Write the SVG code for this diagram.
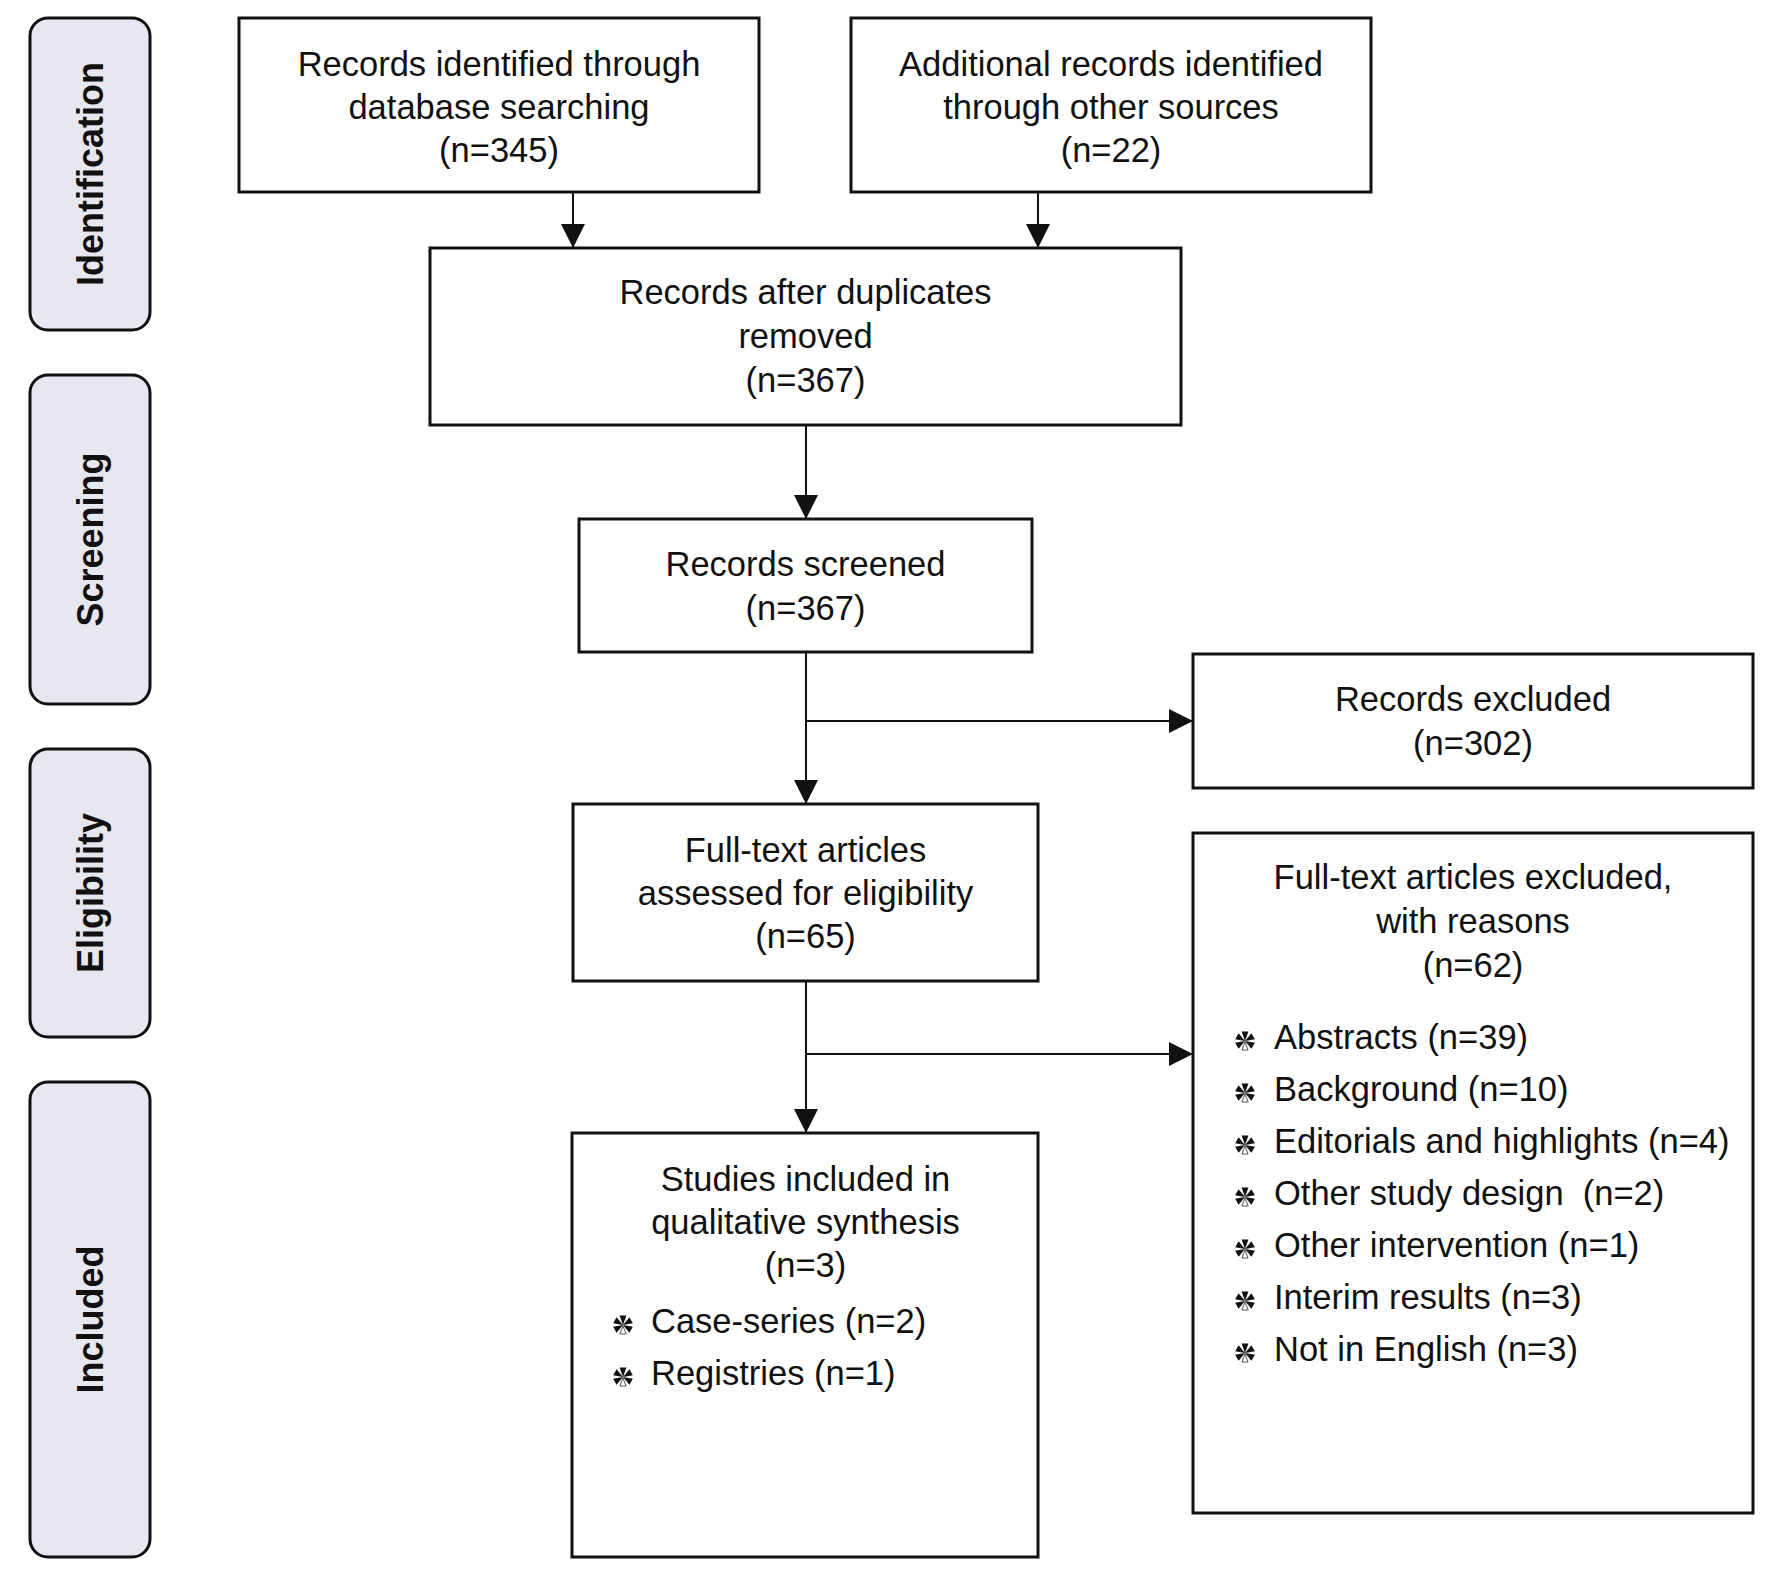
<svg xmlns="http://www.w3.org/2000/svg" xmlns:xlink="http://www.w3.org/1999/xlink" width="1772" height="1586" viewBox="0 0 1772 1586">
<style>
.box{fill:#ffffff;stroke:#111111;stroke-width:3}
.phase{fill:#e7e8ef;stroke:#111111;stroke-width:3}
.t{font-family:"Liberation Sans",Arial,sans-serif;font-size:34.5px;fill:#111111}
.c{text-anchor:middle}
.ph{font-family:"Liberation Sans",Arial,sans-serif;font-size:36px;font-weight:bold;fill:#111111;text-anchor:middle}
.ln{fill:none;stroke:#111111;stroke-width:2}
.arr{marker-end:url(#ah)}
</style>
<defs>
<marker id="ah" markerUnits="userSpaceOnUse" markerWidth="24" markerHeight="24" refX="24" refY="12" orient="auto">
<path d="M0,0 L24,12 L0,24 Z" fill="#111111"/>
</marker>
<g id="bul">
<path d="M0,0 L-3.42,-9.4 L3.42,-9.4 Z M0,0 L6.43,-7.66 L9.85,-1.74 Z M0,0 L9.85,1.74 L6.43,7.66 Z M0,0 L-6.43,7.66 L-9.85,1.74 Z M0,0 L-9.85,-1.74 L-6.43,-7.66 Z" fill="#111111"/>
<path d="M0,1 L3.1,9 L-3.1,9 Z" fill="#ffffff" stroke="#555555" stroke-width="1"/>
</g>
</defs>

<g id="phase-identification">
<rect class="phase" x="30" y="18" width="120" height="312" rx="18" ry="18"/>
<text class="ph" transform="translate(103,174) rotate(-90)">Identification</text>
</g>
<g id="phase-screening">
<rect class="phase" x="30" y="375" width="120" height="329" rx="18" ry="18"/>
<text class="ph" transform="translate(103,539.5) rotate(-90)">Screening</text>
</g>
<g id="phase-eligibility">
<rect class="phase" x="30" y="749" width="120" height="288" rx="18" ry="18"/>
<text class="ph" transform="translate(103,893) rotate(-90)">Eligibility</text>
</g>
<g id="phase-included">
<rect class="phase" x="30" y="1082" width="120" height="475" rx="18" ry="18"/>
<text class="ph" transform="translate(103,1319.5) rotate(-90)">Included</text>
</g>

<g id="node-database">
<rect class="box" x="239" y="18" width="520" height="174"/>
<text class="t c" x="499" y="76">Records identified through</text>
<text class="t c" x="499" y="119">database searching</text>
<text class="t c" x="499" y="162">(n=345)</text>
</g>
<g id="node-other">
<rect class="box" x="851" y="18" width="520" height="174"/>
<text class="t c" x="1111" y="76">Additional records identified</text>
<text class="t c" x="1111" y="119">through other sources</text>
<text class="t c" x="1111" y="162">(n=22)</text>
</g>
<g id="node-duplicates">
<rect class="box" x="430" y="248" width="751" height="177"/>
<text class="t c" x="805.5" y="304">Records after duplicates</text>
<text class="t c" x="805.5" y="348">removed</text>
<text class="t c" x="805.5" y="392">(n=367)</text>
</g>
<g id="node-screened">
<rect class="box" x="579" y="519" width="453" height="133"/>
<text class="t c" x="805.5" y="576">Records screened</text>
<text class="t c" x="805.5" y="620">(n=367)</text>
</g>
<g id="node-excluded">
<rect class="box" x="1193" y="654" width="560" height="134"/>
<text class="t c" x="1473" y="711">Records excluded</text>
<text class="t c" x="1473" y="755">(n=302)</text>
</g>
<g id="node-fulltext">
<rect class="box" x="573" y="804" width="465" height="177"/>
<text class="t c" x="805.5" y="862">Full-text articles</text>
<text class="t c" x="805.5" y="905">assessed for eligibility</text>
<text class="t c" x="805.5" y="948">(n=65)</text>
</g>
<g id="node-fulltext-excluded">
<rect class="box" x="1193" y="833" width="560" height="680"/>
<text class="t c" x="1473" y="889">Full-text articles excluded,</text>
<text class="t c" x="1473" y="933">with reasons</text>
<text class="t c" x="1473" y="977">(n=62)</text>
<use xlink:href="#bul" x="1245" y="1041"/>
<text class="t" x="1274" y="1049">Abstracts (n=39)</text>
<use xlink:href="#bul" x="1245" y="1093"/>
<text class="t" x="1274" y="1101">Background (n=10)</text>
<use xlink:href="#bul" x="1245" y="1145"/>
<text class="t" x="1274" y="1153">Editorials and highlights (n=4)</text>
<use xlink:href="#bul" x="1245" y="1197"/>
<text class="t" x="1274" y="1205" xml:space="preserve">Other study design  (n=2)</text>
<use xlink:href="#bul" x="1245" y="1249"/>
<text class="t" x="1274" y="1257">Other intervention (n=1)</text>
<use xlink:href="#bul" x="1245" y="1301"/>
<text class="t" x="1274" y="1309">Interim results (n=3)</text>
<use xlink:href="#bul" x="1245" y="1353"/>
<text class="t" x="1274" y="1361">Not in English (n=3)</text>
</g>
<g id="node-included">
<rect class="box" x="572" y="1133" width="466" height="424"/>
<text class="t c" x="805.5" y="1191">Studies included in</text>
<text class="t c" x="805.5" y="1234">qualitative synthesis</text>
<text class="t c" x="805.5" y="1277">(n=3)</text>
<use xlink:href="#bul" x="623" y="1325"/>
<text class="t" x="651" y="1333">Case-series (n=2)</text>
<use xlink:href="#bul" x="623" y="1377"/>
<text class="t" x="651" y="1385">Registries (n=1)</text>
</g>

<g id="connectors">
<line class="ln arr" x1="573" y1="192" x2="573" y2="248"/>
<line class="ln arr" x1="1038" y1="192" x2="1038" y2="248"/>
<line class="ln arr" x1="806" y1="425" x2="806" y2="519"/>
<line class="ln arr" x1="806" y1="652" x2="806" y2="804"/>
<line class="ln arr" x1="806" y1="721" x2="1193" y2="721"/>
<line class="ln arr" x1="806" y1="981" x2="806" y2="1133"/>
<line class="ln arr" x1="806" y1="1054" x2="1193" y2="1054"/>
</g>
</svg>
